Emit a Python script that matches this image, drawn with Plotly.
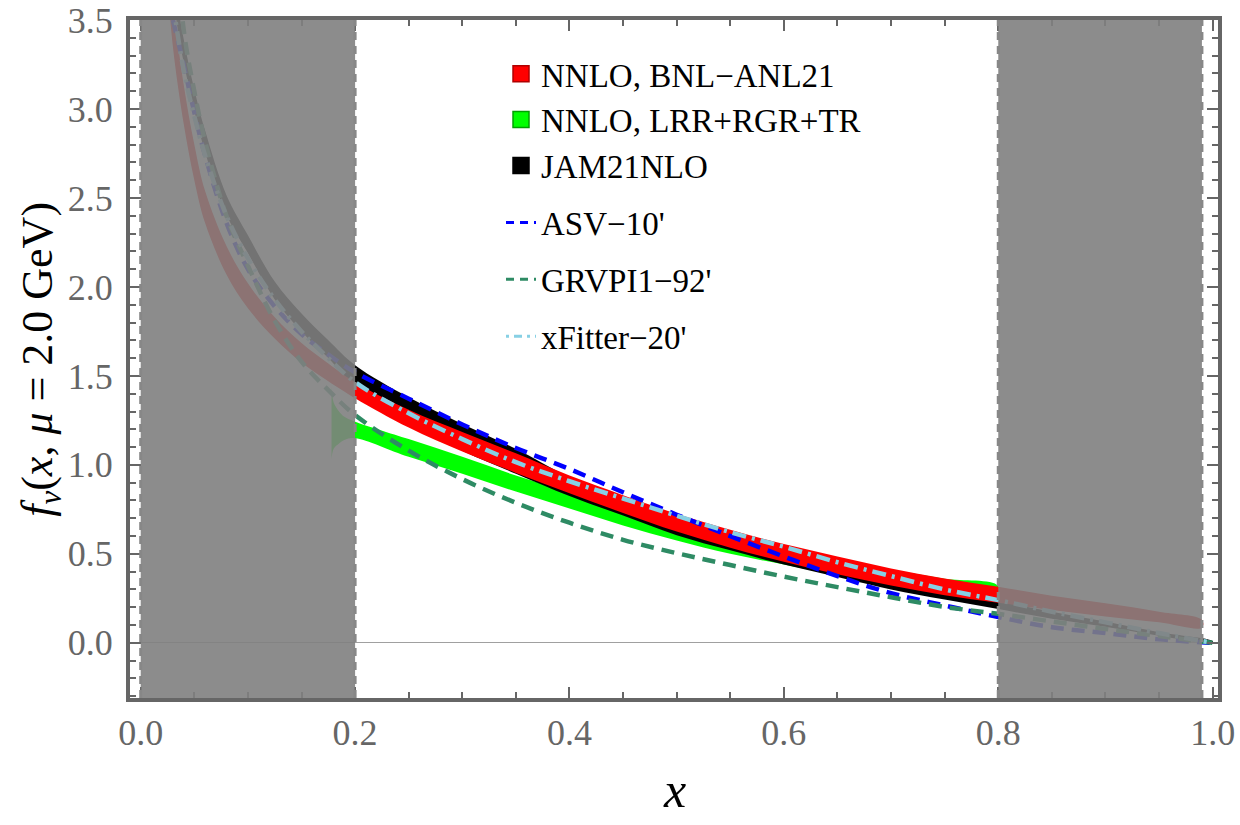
import plotly.graph_objects as go

# ---------------- data ----------------
x_red = [0.025, 0.03, 0.04, 0.05, 0.06, 0.08, 0.10, 0.125, 0.15, 0.175, 0.20, 0.25, 0.30, 0.35,
         0.40, 0.45, 0.50, 0.55, 0.60, 0.65, 0.70, 0.75, 0.80, 0.85, 0.90, 0.95, 0.99]
red_mid = [3.85, 3.48, 3.03, 2.70, 2.45, 2.15, 1.95, 1.77, 1.63, 1.52, 1.42, 1.26, 1.13, 1.01,
           0.89, 0.78, 0.675, 0.585, 0.505, 0.435, 0.37, 0.315, 0.27, 0.225, 0.185, 0.145, 0.107]
red_err = [0.15, 0.13, 0.11, 0.10, 0.09, 0.08, 0.07, 0.06, 0.055, 0.05, 0.045, 0.05, 0.055, 0.055,
           0.05, 0.05, 0.05, 0.05, 0.05, 0.05, 0.048, 0.047, 0.045, 0.04, 0.037, 0.03, 0.022]

x_jam = [0.03, 0.035, 0.04, 0.05, 0.06, 0.08, 0.10, 0.125, 0.15, 0.175, 0.20, 0.25, 0.30, 0.35,
         0.40, 0.45, 0.50, 0.55, 0.60, 0.65, 0.70, 0.75, 0.80, 0.85, 0.90, 0.95, 1.0]
jam_lo = [3.65, 3.43, 3.265, 2.99, 2.76, 2.405, 2.19, 1.93, 1.75, 1.60, 1.44, 1.23, 1.08, 0.95,
          0.825, 0.715, 0.605, 0.52, 0.44, 0.37, 0.30, 0.243, 0.19, 0.135, 0.09, 0.04, 0.0]
jam_hi = [3.79, 3.57, 3.395, 3.11, 2.88, 2.515, 2.29, 2.03, 1.85, 1.70, 1.56, 1.38, 1.23, 1.09,
          0.93, 0.81, 0.71, 0.61, 0.53, 0.45, 0.37, 0.30, 0.235, 0.175, 0.12, 0.06, 0.01]

x_grn = [0.178, 0.18, 0.185, 0.19, 0.20, 0.25, 0.30, 0.35, 0.40, 0.45, 0.50, 0.55, 0.60, 0.65,
         0.70, 0.75, 0.80]
grn_lo = [1.03, 1.09, 1.12, 1.14, 1.15, 1.045, 0.95, 0.85, 0.755, 0.66, 0.575, 0.50, 0.44,
          0.38, 0.325, 0.275, 0.23]
grn_hi = [1.44, 1.35, 1.30, 1.27, 1.243, 1.145, 1.045, 0.94, 0.845, 0.75, 0.665, 0.59, 0.52,
          0.46, 0.41, 0.36, 0.32]

x_lines = [0.03, 0.04, 0.05, 0.06, 0.08, 0.10, 0.125, 0.15, 0.175, 0.20, 0.25, 0.30, 0.35, 0.40,
           0.45, 0.50, 0.55, 0.60, 0.65, 0.70, 0.75, 0.80, 0.85, 0.90, 0.95, 1.0]
asv = [3.50, 3.25, 2.98, 2.74, 2.36, 2.10, 1.89, 1.735, 1.62, 1.52, 1.372, 1.227, 1.095, 0.977,
       0.846, 0.72, 0.60, 0.485, 0.375, 0.279, 0.21, 0.145, 0.088, 0.055, 0.02, 0.0]
grv = [4.20, 3.45, 3.10, 2.82, 2.40, 2.12, 1.81, 1.58, 1.42, 1.28, 1.08, 0.92, 0.787, 0.675,
       0.579, 0.504, 0.437, 0.372, 0.313, 0.256, 0.202, 0.163, 0.12, 0.078, 0.038, 0.0]
xfit = [3.60, 3.22, 2.96, 2.74, 2.40, 2.16, 1.93, 1.75, 1.60, 1.465, 1.29, 1.145, 1.015, 0.908,
        0.811, 0.714, 0.622, 0.54, 0.453, 0.375, 0.30, 0.24, 0.175, 0.115, 0.055, 0.0]

band_names = ["NNLO, BNL\u2212ANL21", "NNLO, LRR+RGR+TR", "JAM21NLO"]
line_names = ["ASV\u221210'", "GRVPI1\u221292'", "xFitter\u221220'"]
x_ticks = [0.0, 0.2, 0.4, 0.6, 0.8, 1.0]
y_ticks = [0.0, 0.5, 1.0, 1.5, 2.0, 2.5, 3.0, 3.5]
cut_regions = [(0.0, 0.2), (0.8, 0.99)]

# ---------------- figure ----------------
fig = go.Figure()


def band(xs, lo, hi, color):
    return go.Scatter(x=list(xs) + list(xs)[::-1], y=list(hi) + list(lo)[::-1],
                      fill="toself", fillcolor=color, mode="lines",
                      line=dict(width=0, shape="spline", smoothing=1.0),
                      showlegend=False, hoverinfo="skip")


red_lo = [m - e for m, e in zip(red_mid, red_err)]
red_hi = [m + e for m, e in zip(red_mid, red_err)]

fig.add_trace(band(x_grn, grn_lo, grn_hi, "#00ff00"))
fig.add_trace(band(x_jam, jam_lo, jam_hi, "#000000"))
fig.add_trace(band(x_red, red_lo, red_hi, "#ff0000"))

line_styles = [("#0000ff", "13px,8px", asv), ("rgb(46,139,100)", "13px,8px", grv),
               ("rgb(135,208,228)", "14px,6px,3px,6px", xfit)]
for name, (col, dash, ys) in zip(line_names, line_styles):
    fig.add_trace(go.Scatter(x=x_lines, y=ys, mode="lines", showlegend=False, hoverinfo="skip",
                             line=dict(color=col, width=4.5, dash=dash, shape="spline", smoothing=1.0)))

# legend entries
band_cols = [("#ff0000", "#b00000"), ("#00ff00", "#00a000"), ("#000000", "#000000")]
for i, (name, (fc, lc)) in enumerate(zip(band_names, band_cols)):
    fig.add_trace(go.Scatter(x=[None], y=[None], mode="markers", name=name,
                             marker=dict(symbol="square", size=18, color=fc, line=dict(color=lc, width=1.5)),
                             legendgroup="bands", legendrank=i + 1))
for i, (name, (col, dash, ys)) in enumerate(zip(line_names, line_styles)):
    fig.add_trace(go.Scatter(x=[None], y=[None], mode="lines", name=name,
                             line=dict(color=col, width=3, dash="8px,6px" if i < 2 else "3px,5px,8px,5px"),
                             legendgroup="l%d" % i, legendrank=10 + i))

shapes = []
for a, b in cut_regions:
    shapes.append(dict(type="rect", xref="x", yref="y", x0=a, x1=b, y0=-0.31, y1=3.5,
                       fillcolor="rgba(127,127,127,0.9)", line=dict(width=0), layer="above"))
    for xv in (a, b):
        shapes.append(dict(type="line", xref="x", yref="y", x0=xv, x1=xv, y0=-0.31, y1=3.5,
                           line=dict(color="rgb(135,135,135)", width=3, dash="8px,6px"), layer="above"))

axis_common = dict(showline=True, linewidth=4, linecolor="#666666", mirror="ticks",
                   ticks="inside", ticklen=11, tickwidth=2, tickcolor="#666666",
                   showgrid=False, tickfont=dict(size=36, color="#666666"))

fig.update_layout(
    template="none",
    width=1240, height=825,
    margin=dict(l=130, r=22, t=20, b=127),
    plot_bgcolor="white", paper_bgcolor="white",
    font=dict(family="Liberation Serif", color="black"),
    shapes=shapes,
    xaxis=dict(range=[-0.01, 1.005], tickvals=x_ticks, tickformat=".1f", zeroline=False,
               minor=dict(dtick=0.05, tick0=0, ticks="inside", ticklen=6, tickwidth=2, tickcolor="#666666"),
               **axis_common),
    yaxis=dict(range=[-0.31, 3.5], tickvals=y_ticks, tickformat=".1f",
               zeroline=True, zerolinecolor="#a0a0a0", zerolinewidth=1,
               minor=dict(dtick=0.1, tick0=0, ticks="inside", ticklen=6, tickwidth=2, tickcolor="#666666"),
               ticklabelstandoff=6, **axis_common),
    legend=dict(x=0.341, y=0.962, xanchor="left", yanchor="top", bgcolor="rgba(0,0,0,0)",
                font=dict(size=33, color="black"), traceorder="grouped",
                tracegroupgap=11, itemwidth=30, borderwidth=0),
    annotations=[
        dict(text="<i>f</i><sub><i>v</i></sub>(<i>x</i>, <i>\u03bc</i> = 2.0 GeV)", xref="paper", yref="paper",
             x=-0.083, y=0.5, textangle=-90, showarrow=False, xanchor="center", yanchor="middle",
             font=dict(size=44, color="black")),
        dict(text="<i>x</i>", xref="paper", yref="paper", x=0.5, y=-0.136, showarrow=False,
             xanchor="center", yanchor="middle", font=dict(size=50, color="black")),
    ],
)

fig.write_html("out.html")
